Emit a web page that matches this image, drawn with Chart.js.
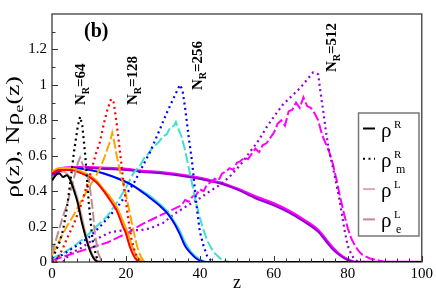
<!DOCTYPE html>
<html><head><meta charset="utf-8">
<script src="https://cdn.jsdelivr.net/npm/chart.js@4/dist/chart.umd.min.js"></script>
<style>html,body{margin:0;padding:0;background:#fff}canvas{display:block}</style>
</head><body>
<canvas id="c" width="436" height="291" style="width:436px;height:291px"></canvas>
<script>
// ---------- tick labels ----------
const xTicks = [0, 20, 40, 60, 80, 100];
const yTicks = [0, 0.2, 0.4, 0.6, 0.8, 1.0, 1.2];

// ---------- N_R = 64 ----------
const zR64  = [0, 1, 2, 3, 4, 5, 6, 7, 8, 9, 10, 11, 12, 13, 100];
const vR64  = [0.46, 0.49, 0.50, 0.48, 0.49, 0.46, 0.40, 0.33, 0.23, 0.15, 0.08, 0.03, 0.005, 0, 0];
const zL64  = [0, 1, 2, 3, 4, 5, 6, 7, 8, 9, 10, 11, 12, 13, 100];
const vL64  = [0.49, 0.50, 0.51, 0.51, 0.50, 0.47, 0.42, 0.35, 0.26, 0.17, 0.09, 0.04, 0.01, 0, 0];
const zRm64 = [0, 1, 2, 3, 4, 5, 6, 7, 7.6, 8.2, 9, 10, 11, 12, 13, 100];
const vRm64 = [0.02, 0.06, 0.11, 0.18, 0.30, 0.46, 0.63, 0.77, 0.82, 0.77, 0.60, 0.32, 0.12, 0.03, 0, 0];
const zLe64 = [0, 1, 2, 3, 4, 5, 6, 7, 7.6, 8.3, 9, 10, 11, 11.6, 12.5, 13.5, 100];
const vLe64 = [0.05, 0.12, 0.19, 0.26, 0.32, 0.40, 0.48, 0.56, 0.59, 0.55, 0.52, 0.46, 0.30, 0.16, 0.05, 0, 0];

// ---------- N_R = 128 ----------
const zR128  = [0, 2, 5, 8, 10, 12, 14, 16, 17.5, 19, 20, 21, 22, 23, 24, 100];
const vR128  = [0.50, 0.52, 0.52, 0.50, 0.48, 0.45, 0.40, 0.34, 0.29, 0.21, 0.16, 0.09, 0.04, 0.01, 0, 0];
const zL128  = [0, 2, 5, 8, 10, 12, 14, 16, 17.5, 19, 20, 21, 22, 23, 24, 25, 100];
const vL128  = [0.51, 0.53, 0.53, 0.51, 0.49, 0.46, 0.41, 0.36, 0.31, 0.24, 0.19, 0.13, 0.07, 0.03, 0.01, 0, 0];
const zRm128 = [1, 2, 3, 4, 6, 8, 10, 12, 13, 14, 15, 16, 16.7, 17.5, 18.4, 19.5, 20.5, 21.5, 22.5, 23.5, 24.5, 100];
const vRm128 = [0, 0.04, 0.08, 0.13, 0.22, 0.33, 0.47, 0.62, 0.68, 0.78, 0.86, 0.92, 0.90, 0.78, 0.62, 0.42, 0.26, 0.13, 0.05, 0.01, 0, 0];
const zLe128 = [0, 2, 4, 6, 8, 10, 12, 13, 14, 15, 15.7, 16.3, 17, 17.5, 18.5, 19.3, 20, 21, 22, 23, 24, 25, 100];
const vLe128 = [0.04, 0.12, 0.20, 0.27, 0.35, 0.42, 0.49, 0.53, 0.58, 0.64, 0.68, 0.73, 0.66, 0.60, 0.50, 0.44, 0.38, 0.28, 0.18, 0.09, 0.03, 0, 0];

// ---------- N_R = 256 ----------
const zR256  = [0, 3, 6, 10, 14, 18, 22, 26, 29, 31, 33, 34.5, 36, 37.5, 39, 40.5, 42, 100];
const vR256  = [0.51, 0.53, 0.53, 0.52, 0.50, 0.47, 0.43, 0.37, 0.32, 0.28, 0.22, 0.16, 0.09, 0.05, 0.02, 0.005, 0, 0];
const zL256  = [0, 3, 6, 10, 14, 18, 22, 26, 29, 31, 33, 34.5, 36, 37.5, 39, 40.5, 42, 100];
const vL256  = [0.51, 0.53, 0.53, 0.52, 0.50, 0.47, 0.43, 0.38, 0.33, 0.29, 0.23, 0.18, 0.11, 0.06, 0.03, 0.01, 0, 0];
const zRm256 = [0, 2, 5, 8, 10, 13, 16, 18.4, 20, 22, 24, 26.5, 29, 31, 33, 34.6, 35.3, 36, 37, 37.8, 38.6, 39.3, 40, 41, 42, 43, 44, 100];
const vRm256 = [0, 0.03, 0.07, 0.11, 0.14, 0.20, 0.27, 0.33, 0.38, 0.44, 0.52, 0.62, 0.74, 0.84, 0.93, 1.00, 0.97, 0.87, 0.70, 0.58, 0.42, 0.28, 0.17, 0.09, 0.03, 0.01, 0, 0];
const zLe256 = [0, 3, 6, 9, 12, 15, 18, 20, 22, 24, 25, 26, 27, 28, 29, 30, 31, 32, 33, 33.5, 34, 35, 36, 37, 38, 39, 40, 41, 42, 43, 44, 45, 46, 48, 100];
const vLe256 = [0.02, 0.05, 0.09, 0.14, 0.20, 0.26, 0.35, 0.42, 0.50, 0.55, 0.59, 0.61, 0.64, 0.66, 0.68, 0.71, 0.72, 0.76, 0.77, 0.79, 0.76, 0.71, 0.63, 0.53, 0.43, 0.33, 0.25, 0.18, 0.12, 0.08, 0.05, 0.03, 0.01, 0, 0];

// ---------- N_R = 512 ----------
const zR512  = [0, 3, 6, 10, 15, 20, 24, 30, 37, 42, 46, 50, 55, 60, 64, 68, 72, 74, 76, 78, 80, 82, 100];
const vR512  = [0.49, 0.52, 0.53, 0.53, 0.525, 0.52, 0.51, 0.50, 0.48, 0.46, 0.44, 0.41, 0.36, 0.32, 0.28, 0.23, 0.17, 0.12, 0.07, 0.035, 0.01, 0, 0];
const zL512  = [0, 3, 6, 10, 15, 20, 24, 30, 37, 42, 46, 50, 55, 60, 64, 68, 72, 74, 76, 78, 80, 82, 100];
const vL512  = [0.50, 0.53, 0.535, 0.535, 0.53, 0.525, 0.515, 0.505, 0.485, 0.465, 0.445, 0.415, 0.37, 0.33, 0.29, 0.24, 0.18, 0.13, 0.08, 0.04, 0.015, 0, 0];
const zRm512 = [3, 5, 8, 10, 13, 16, 20, 24, 26.5, 30, 33, 36, 40, 42, 45, 48, 51, 53.5, 56, 58, 60, 62.5, 65, 67, 69, 70.6, 72, 72.6, 73.3, 74, 74.8, 75.8, 76.8, 77.6, 78.4, 79.2, 80, 81, 82, 83, 100];
const vRm512 = [0, 0.05, 0.08, 0.11, 0.14, 0.17, 0.18, 0.18, 0.19, 0.22, 0.27, 0.31, 0.36, 0.39, 0.43, 0.48, 0.55, 0.62, 0.69, 0.76, 0.82, 0.89, 0.94, 0.98, 1.03, 1.07, 1.06, 0.96, 0.86, 0.75, 0.64, 0.55, 0.45, 0.37, 0.27, 0.17, 0.09, 0.04, 0.01, 0, 0];
const zLe512 = [0, 3, 6, 9, 12, 15, 18, 21, 24, 27, 30, 33, 35, 36, 37, 38, 39, 40, 41, 42, 43, 44, 45, 46, 47, 48, 49, 50, 51, 52, 53, 54, 55, 56, 57, 58, 59, 60, 61, 62, 63, 64, 65, 66, 67, 68, 69, 70, 71, 72, 73, 74, 75, 76, 77, 78, 79, 80, 81, 82, 83, 84, 86, 88, 90, 100];
const vLe512 = [0.01, 0.03, 0.05, 0.07, 0.09, 0.11, 0.14, 0.17, 0.21, 0.24, 0.27, 0.30, 0.32, 0.35, 0.34, 0.37, 0.38, 0.41, 0.40, 0.44, 0.45, 0.47, 0.46, 0.50, 0.51, 0.53, 0.52, 0.56, 0.57, 0.59, 0.58, 0.61, 0.64, 0.62, 0.66, 0.67, 0.70, 0.73, 0.78, 0.80, 0.77, 0.85, 0.86, 0.90, 0.87, 0.93, 0.88, 0.87, 0.84, 0.80, 0.72, 0.67, 0.62, 0.55, 0.46, 0.36, 0.27, 0.19, 0.13, 0.09, 0.06, 0.04, 0.02, 0.01, 0, 0];

const FONT = "'Liberation Serif','Times New Roman',serif";
const pts = (zs, vs) => zs.map((z, i) => ({x: z, y: vs[i]}));
const solid = (zs, vs, c, w) => ({data: pts(zs, vs), borderColor: c, borderWidth: w || 2, cubicInterpolationMode: 'monotone'});
const dotted = (zs, vs, c) => ({data: pts(zs, vs), borderColor: c, borderWidth: 2.2, borderDash: [2, 3.5]});
const dashed = (zs, vs, c) => ({data: pts(zs, vs), borderColor: c, borderWidth: 2, borderDash: [10, 3]});

const datasets = [
  solid(zR64, vR64, '#000000'),
  dotted(zRm64, vRm64, '#000000'),
  dashed(zLe64, vLe64, '#bc8f8f'),
  dotted(zRm128, vRm128, '#ff0000'),
  solid(zR128, vR128, '#ff0000'),
  dashed(zLe128, vLe128, '#ffa500'),
  solid(zL128, vL128, '#ffa500'),
  dotted(zRm256, vRm256, '#0000ff'),
  solid(zR256, vR256, '#0000ff'),
  dashed(zLe256, vLe256, '#40e0d0'),
  solid(zL256, vL256, '#40e0d0'),
  dotted(zRm512, vRm512, '#9400d3'),
  dashed(zLe512, vLe512, '#ff00ff'),
  solid(zR512, vR512, '#9400d3'),
  solid(zL512, vL512, '#ff00ff', 2.6),
  solid(zL64, vL64, '#d9a6a6')
];

function rich(ctx, parts, x, y, rot, align, sx) {
  ctx.save();
  ctx.translate(x, y);
  if (rot) ctx.rotate(rot);
  if (sx) ctx.scale(sx, 1);
  ctx.textBaseline = 'alphabetic';
  ctx.textAlign = 'left';
  let w = 0;
  parts.forEach(p => { ctx.font = (p.b ? 'bold ' : '') + p.s + 'px ' + FONT; w += ctx.measureText(p.t).width; });
  let cx = align === 'center' ? -w / 2 : 0;
  parts.forEach(p => {
    ctx.font = (p.b ? 'bold ' : '') + p.s + 'px ' + FONT;
    ctx.fillStyle = '#000';
    ctx.fillText(p.t, cx, p.dy || 0);
    cx += ctx.measureText(p.t).width;
  });
  ctx.restore();
}

const deco = {
  id: 'deco',
  beforeDatasetsDraw(chart) {
    const {ctx, chartArea: a} = chart;
    ctx.save();
    ctx.strokeStyle = '#555'; ctx.lineWidth = 1.5;
    ctx.strokeRect(a.left, a.top, a.right - a.left, a.bottom - a.top);
    ctx.restore();
  },
  afterDatasetsDraw(chart) {
    const {ctx, chartArea: a, scales: {x, y}} = chart;
    ctx.save();
    ctx.strokeStyle = '#333'; ctx.lineWidth = 1;
    const ln = (x1, y1, x2, y2) => { ctx.beginPath(); ctx.moveTo(x1, y1); ctx.lineTo(x2, y2); ctx.stroke(); };
    for (let i = 0; i <= 30; i++) {
      const px = Math.round(x.getPixelForValue(i * 100 / 30)) + 0.5;
      ln(px, a.bottom, px, a.bottom - (i % 6 === 0 ? 6 : 3.5));
    }
    for (let i = 0; i <= 13; i++) {
      const py = Math.round(y.getPixelForValue(i * 0.1)) + 0.5;
      ln(a.left, py, a.left + (i % 2 === 0 ? 6 : 3.5), py);
    }
    // y title
    rich(ctx, [{t: 'ρ(z), Nρ', s: 18}, {t: 'e', s: 13, dy: 4}, {t: '(z)', s: 18}], 19, 137, -Math.PI / 2, 'center', 1.42);
    // x title
    rich(ctx, [{t: 'z', s: 18}], 237, 288, 0, 'center');
    // panel label
    rich(ctx, [{t: '(b)', s: 20, b: true}], 84, 37, 0);
    // N_R labels
    const lab = (n, px, py) => rich(ctx, [{t: 'N', s: 15, b: true}, {t: 'R', s: 10, b: true, dy: 4}, {t: '=' + n, s: 15, b: true}], px, py, -Math.PI / 2);
    lab('64', 85, 105);
    lab('128', 137, 105);
    lab('256', 202, 90);
    lab('512', 336, 72);
    // legend
    ctx.fillStyle = '#fff';
    ctx.fillRect(358.5, 113, 60.5, 123);
    ctx.strokeStyle = '#777'; ctx.lineWidth = 1.5;
    ctx.strokeRect(358.5, 113, 60.5, 123);
    const rows = [
      {c: '#000', dash: [], sup: 'R', sub: ''},
      {c: '#000', dash: [2, 3.5], sup: 'R', sub: 'm'},
      {c: '#e0a8a8', dash: [], sup: 'L', sub: ''},
      {c: '#c48a8a', dash: [], sup: 'L', sub: 'e'}
    ];
    rows.forEach((r, i) => {
      const ly = 128.5 + i * 30.3;
      ctx.save();
      ctx.strokeStyle = r.c; ctx.lineWidth = 2; ctx.setLineDash(r.dash);
      ln(363, ly, 375, ly);
      ctx.restore();
      rich(ctx, [{t: 'ρ', s: 21}], 381, ly + 8, 0);
      rich(ctx, [{t: r.sup, s: 11}], 394, ly - 1, 0);
      if (r.sub) rich(ctx, [{t: r.sub, s: 12}], 396, ly + 14, 0);
    });
    ctx.restore();
  }
};

new Chart(document.getElementById('c'), {
  type: 'line',
  data: {datasets},
  options: {
    responsive: false,
    animation: false,
    layout: {padding: {left: 0, right: 14, top: 2, bottom: 0}},
    plugins: {legend: {display: false}, tooltip: {enabled: false}},
    elements: {point: {radius: 0}, line: {tension: 0}},
    scales: {
      x: {
        type: 'linear', min: 0, max: 100,
        grid: {display: false, drawTicks: false}, border: {display: false},
        afterBuildTicks: s => { s.ticks = xTicks.map(v => ({value: v})); },
        afterFit: s => { s.height = 29; },
        ticks: {padding: 3, color: '#000', maxRotation: 0, font: {family: FONT, size: 15}}
      },
      y: {
        type: 'linear', min: 0, max: 1.4,
        grid: {display: false, drawTicks: false}, border: {display: false},
        afterBuildTicks: s => { s.ticks = yTicks.map(v => ({value: v})); },
        afterFit: s => { s.width = 52; },
        ticks: {padding: 5, color: '#000', font: {family: FONT, size: 15}, callback: v => String(+(+v).toFixed(1))}
      }
    }
  },
  plugins: [deco]
});
</script>
</body></html>
